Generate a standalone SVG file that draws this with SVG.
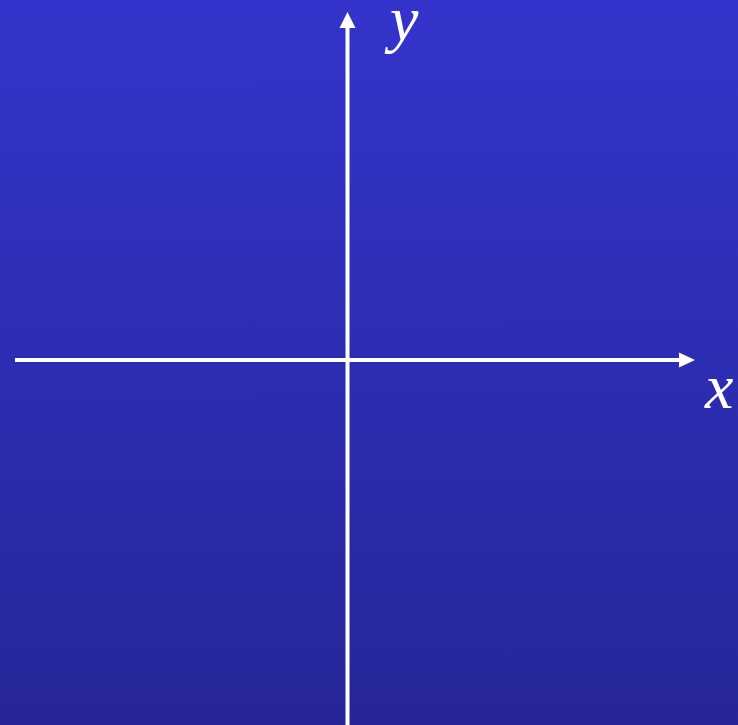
<svg xmlns="http://www.w3.org/2000/svg" width="738" height="725" viewBox="0 0 738 725">
<defs>
<linearGradient id="bg" x1="0" y1="0" x2="0" y2="1">
<stop offset="0" stop-color="#3434cc"/>
<stop offset="1" stop-color="#262699"/>
</linearGradient>
<style>
.axis{stroke:#fff;stroke-width:4;fill:none}
.lbl{font-family:"Liberation Serif",serif;font-style:italic;fill:#fff;font-size:64px}
</style>
</defs>
<rect width="738" height="725" fill="url(#bg)"/>
<g id="connectors">
<line class="axis" x1="15" y1="360" x2="681" y2="360"/>
<polygon points="695,360 679,352.5 679,367.5" fill="#fff"/>
<line class="axis" x1="347.5" y1="725" x2="347.5" y2="26"/>
<polygon points="347.5,12 339.5,28 355.5,28" fill="#fff"/>
</g>
<g id="label-y"><text class="lbl" x="390" y="40">y</text></g>
<g id="label-x"><text class="lbl" x="705" y="408">x</text></g>
</svg>
